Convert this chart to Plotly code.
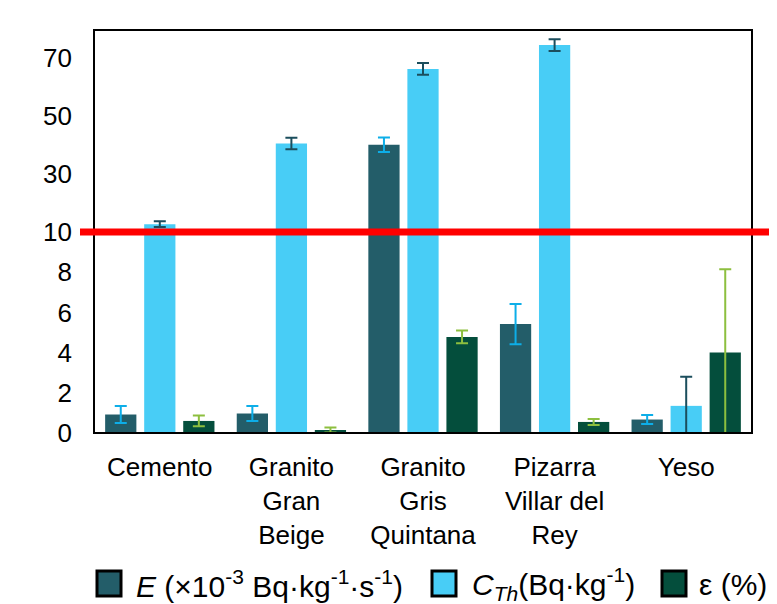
import plotly.graph_objects as go

categories = ["Cemento", "Granito<br>Gran<br>Beige", "Granito<br>Gris<br>Quintana",
              "Pizarra<br>Villar del<br>Rey", "Yeso"]

E_vals = [0.92, 0.97, 40.1, 5.42, 0.67]
E_err = [0.42, 0.37, 2.5, 1.0, 0.22]

CTh_vals = [12.7, 40.5, 66.2, 74.4, 1.35]
CTh_err = [1.0, 2.0, 2.0, 2.0, 1.45]

eps_vals = [0.6, 0.15, 4.78, 0.55, 4.0]
eps_err = [0.27, 0.12, 0.32, 0.15, 4.15]

series_names = ["<i>E</i> (×10<sup>-3</sup> Bq·kg<sup>-1</sup>·s<sup>-1</sup>)",
                "<i>C<sub>Th</sub></i>(Bq·kg<sup>-1</sup>)",
                "ε (%)"]

bar_colors = ["#235D69", "#48CDF6", "#044E3C"]
err_colors = ["#0DAEE8", "#1B4E5D", "#8DBF3F"]

lower_ticks = [0, 2, 4, 6, 8, 10]
upper_ticks = [30, 50, 70]
break_value = 10
upper_max = 79.6
split = 0.4988

FONT = "Liberation Sans, Arial, sans-serif"

# figure geometry (page body adds an 8px offset)
W, H = 777, 604
ML, MR, MT, MB = 86, 33, 22, 179
PW = W - ML - MR
PH = H - MT - MB


def px(x):
    return (x - ML) / PW


def py(y):
    return (H - MB - y) / PH


fig = go.Figure()

data = [(E_vals, E_err), (CTh_vals, CTh_err), (eps_vals, eps_err)]
for ax in ["y", "y2"]:
    for i, (vals, errs) in enumerate(data):
        fig.add_trace(go.Bar(
            x=categories, y=vals, yaxis=ax, xaxis="x", name=series_names[i],
            marker=dict(color=bar_colors[i], line=dict(width=0)),
            error_y=dict(type="data", array=errs, visible=True,
                         color=err_colors[i], thickness=2, width=6),
            showlegend=False, hoverinfo="skip",
        ))

fig.update_layout(
    width=W, height=H,
    margin=dict(l=ML, r=MR, t=MT, b=MB, autoexpand=False),
    paper_bgcolor="white", plot_bgcolor="white",
    font=dict(family=FONT, size=26, color="black"),
    barmode="group", bargap=0.11, bargroupgap=0.2,
    xaxis=dict(anchor="y", showline=False, showgrid=False, ticks="",
               tickfont=dict(size=26), ticklabelstandoff=16),
    yaxis=dict(domain=[0, split], range=[0, break_value], tickvals=lower_ticks,
               showgrid=False, zeroline=False, showline=False, ticks="",
               ticklabelstandoff=21, tickfont=dict(size=26)),
    yaxis2=dict(domain=[split, 1], range=[break_value, upper_max], tickvals=upper_ticks,
                anchor="x", showgrid=False, zeroline=False, showline=False, ticks="",
                ticklabelstandoff=21, tickfont=dict(size=26)),
    showlegend=False,
)

# frame around plot
fig.add_shape(type="rect", xref="paper", yref="paper", x0=0, x1=1, y0=0, y1=1,
              line=dict(color="black", width=2), layer="above")
# break line at 10
fig.add_shape(type="line", xref="paper", yref="paper", x0=px(72), x1=px(763),
              y0=split, y1=split, line=dict(color="#FF0000", width=7),
              layer="above")

# legend (swatch + label)
legend_swatch_x = [89, 424, 654]
legend_text_x = [126, 462, 689]
sw_w, sw_top, sw_bot = 24, 563, 588
text_y = 576
for i in range(3):
    fig.add_shape(type="rect", xref="paper", yref="paper",
                  x0=px(legend_swatch_x[i]), x1=px(legend_swatch_x[i] + sw_w),
                  y0=py(sw_bot), y1=py(sw_top),
                  fillcolor=bar_colors[i], line=dict(color="black", width=3))
    fig.add_annotation(xref="paper", yref="paper", x=px(legend_text_x[i]), y=py(text_y),
                       xanchor="left", yanchor="middle", showarrow=False,
                       text=series_names[i], font=dict(size=30, color="black"))

fig.write_html("out.html")
